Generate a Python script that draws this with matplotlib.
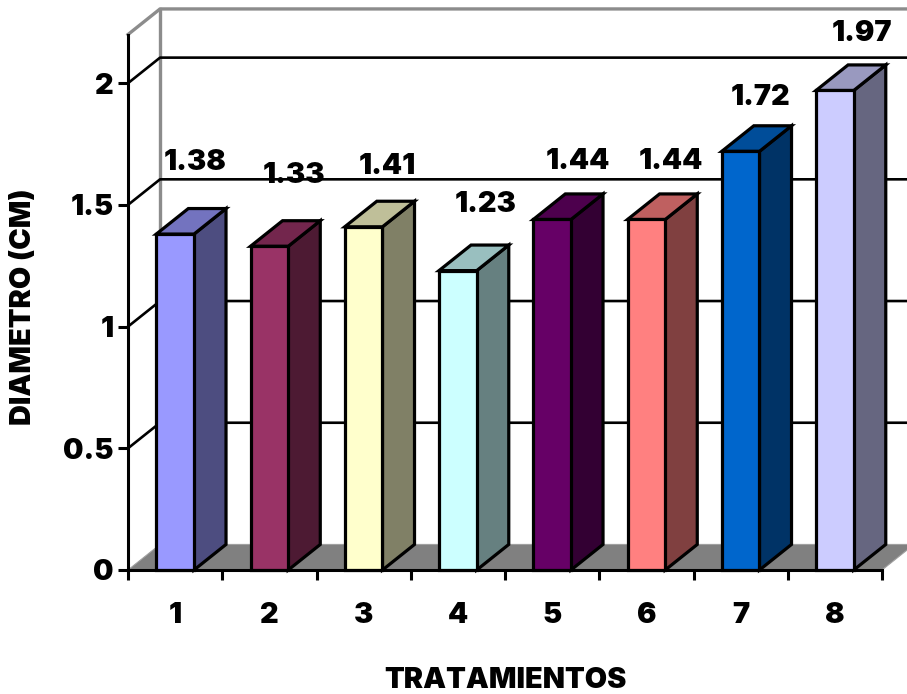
import matplotlib
matplotlib.use("Agg")
import matplotlib.pyplot as plt
from matplotlib.colors import to_rgb

treatments = ["1", "2", "3", "4", "5", "6", "7", "8"]
diameters = [1.38, 1.33, 1.41, 1.23, 1.44, 1.44, 1.72, 1.97]
bar_colors = ["#9999FF", "#993366", "#FFFFCC", "#CCFFFF",
              "#660066", "#FF8080", "#0066CC", "#CCCCFF"]
y_ticks = [0, 0.5, 1, 1.5, 2]
y_labels = ["0", "0.5", "1", "1.5", "2"]

# Value label nudges from the top of each bar, in pixels
label_dx = [20, 25, 24, 28, 26, 24, 20, 27]
label_dy = [72, 71, 60, 66, 58, 58, 54, 57]

W, H = 907, 694
X0, X1, Y0, YTOP = 128, 882, 570, 34.5
DEPTH_X, DEPTH_Y = 0.34, 0.105   # oblique depth, in data units
BAR_HALF = 0.2
YMAX = 2.2
TEXT_SIZE = 20.8
EDGE = 2.3

FONT = dict(family=["Inter", "DejaVu Sans"], weight="black", color="black")

fig = plt.figure(figsize=(W / 100, H / 100), dpi=100, facecolor="white")
ax = fig.add_axes([X0 / W, 1 - Y0 / H, (X1 - X0) / W, (Y0 - YTOP) / H])
ax.set_xlim(0, 8)
ax.set_ylim(0, YMAX)
ax.patch.set_visible(False)
for side in ("top", "right"):
    ax.spines[side].set_visible(False)
for side in ("left", "bottom"):
    ax.spines[side].set_linewidth(2.2)
    ax.spines[side].set_zorder(6)


def shade(color, factor):
    return tuple(c * factor for c in to_rgb(color))


# Floor and back walls
floor_right = 8 + DEPTH_X
ax.fill([0, 8, floor_right, DEPTH_X], [0, 0, DEPTH_Y, DEPTH_Y],
        facecolor="#808080", edgecolor="#A0A0A0", lw=0.8,
        clip_on=False, zorder=1)
ax.plot([DEPTH_X, DEPTH_X], [DEPTH_Y, YMAX + DEPTH_Y], color="#8C8C8C",
        lw=2.4, clip_on=False, zorder=1.5)
ax.plot([0, DEPTH_X, floor_right], [YMAX, YMAX + DEPTH_Y, YMAX + DEPTH_Y],
        color="#8C8C8C", lw=2.4, clip_on=False, zorder=1.5)

# Gridlines across the side wall and the back wall
for v in y_ticks[1:]:
    ax.plot([0, DEPTH_X, floor_right], [v, v + DEPTH_Y, v + DEPTH_Y],
            color="black", lw=1.9, clip_on=False, zorder=2)

# Bars as oblique boxes: front, right side, top
for i, (value, color) in enumerate(zip(diameters, bar_colors)):
    left, right = i + 0.5 - BAR_HALF, i + 0.5 + BAR_HALF
    style = dict(edgecolor="black", lw=EDGE, joinstyle="miter",
                 clip_on=False, zorder=3 + i * 0.01)
    ax.fill([right, right + DEPTH_X, right + DEPTH_X, right],
            [0, DEPTH_Y, value + DEPTH_Y, value],
            facecolor=shade(color, 0.5), **style)
    ax.fill([left, right, right + DEPTH_X, left + DEPTH_X],
            [value, value, value + DEPTH_Y, value + DEPTH_Y],
            facecolor=shade(color, 0.75), **style)
    ax.bar(i + 0.5, value, width=2 * BAR_HALF, color=color, edgecolor="black",
           linewidth=EDGE, clip_on=False, zorder=3 + i * 0.01)
    ax.annotate(f"{value:.2f}", xy=(i + 0.5, value),
                xytext=(label_dx[i], label_dy[i]),
                textcoords="offset pixels", ha="center", va="center",
                fontsize=TEXT_SIZE, zorder=10, annotation_clip=False, **FONT)

# Axes furniture
ax.set_yticks(y_ticks, y_labels, fontsize=TEXT_SIZE, **FONT)
ax.set_xticks(range(9), [""] * 9)
ax.set_xticks([i + 0.5 for i in range(8)], treatments, minor=True,
              fontsize=TEXT_SIZE, **FONT)
ax.tick_params(axis="both", which="major", length=7.5, width=2.2)
ax.tick_params(axis="y", pad=3)
ax.tick_params(axis="x", which="minor", length=0, pad=23)

fig.text(505 / W, 1 - 681 / H, "TRATAMIENTOS", ha="center", va="center",
         fontsize=TEXT_SIZE, **FONT)
fig.text(24 / W, 1 - 307 / H, "DIAMETRO (CM)", ha="center", va="center",
         rotation=90, fontsize=TEXT_SIZE, **FONT)

fig.savefig("out.png", dpi=100, facecolor="white")
